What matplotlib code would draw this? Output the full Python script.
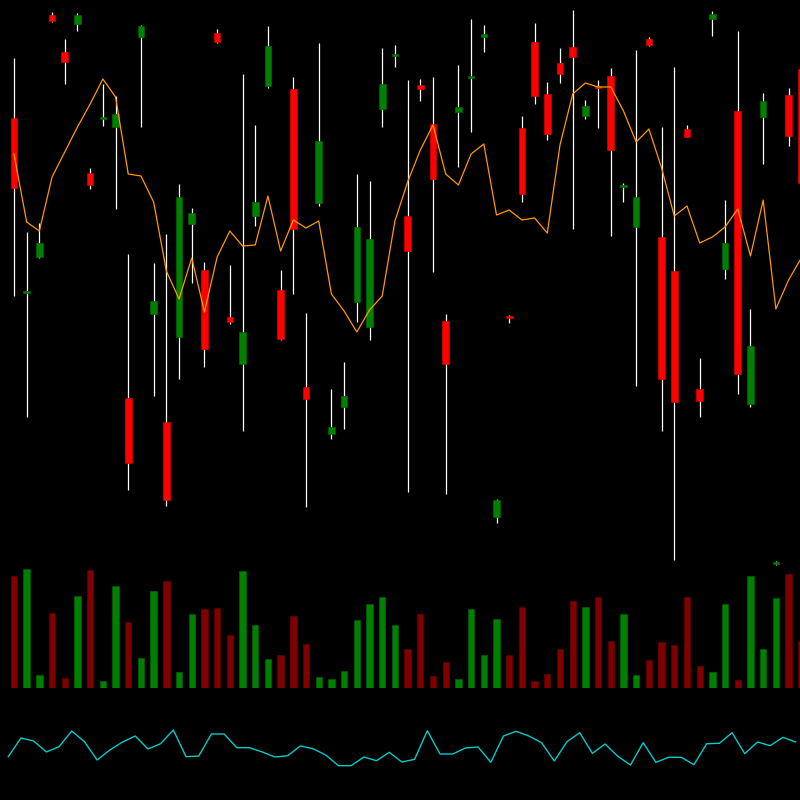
import matplotlib
matplotlib.use('Agg')
import matplotlib.pyplot as plt
import numpy as np

# OHLC values (63 sessions)
opens = [48.2, 30.7, 34.3, 58.5, 54.8, 57.6, 42.7, 48.1, 47.3, 20.2,
         56.3, 28.6, 17.8, 26.3, 37.6, 33.0, 56.7, 28.3, 23.6, 38.4,
         51.4, 31.0, 51.1, 21.3, 39.7, 16.6, 19.3, 29.8, 27.3, 49.1,
         54.4, 38.4, 51.5, 47.6, 27.9, 48.8, 52.2, 56.3, 8.3, 28.3,
         47.2, 55.8, 50.6, 53.7, 55.3, 48.4, 51.3, 52.4, 41.3, 37.3,
         56.1, 36.3, 32.9, 47.1, 21.1, 58.1, 33.1, 48.9, 19.6, 48.3,
         3.6, 50.5, 53.1]
highs = [54.2, 36.8, 37.7, 58.8, 56.1, 58.7, 43.2, 51.6, 50.4, 34.6,
         57.5, 33.7, 36.6, 41.6, 39.2, 33.8, 57.1, 33.5, 52.6, 47.5,
         57.4, 33.0, 52.3, 28.7, 55.7, 21.1, 23.8, 42.6, 41.9, 55.2,
         55.5, 52.0, 52.1, 52.3, 28.6, 53.5, 58.1, 57.5, 10.1, 28.5,
         48.4, 57.7, 51.8, 55.2, 59.0, 50.0, 52.0, 53.2, 41.7, 55.0,
         56.3, 47.3, 53.3, 47.5, 24.2, 58.9, 40.0, 56.9, 29.1, 50.7,
         3.9, 51.2, 54.0]
lows = [30.4, 18.3, 34.2, 57.8, 51.6, 56.9, 41.1, 47.4, 39.1, 11.0,
        47.3, 20.4, 9.4, 22.1, 31.7, 23.3, 55.7, 27.6, 16.9, 37.4,
        51.2, 26.0, 30.6, 9.3, 39.4, 16.1, 17.1, 27.8, 26.0, 47.3,
        53.3, 10.8, 49.9, 32.8, 10.6, 43.3, 46.8, 54.8, 7.7, 27.7,
        39.8, 49.6, 46.0, 51.7, 37.1, 48.1, 47.2, 36.4, 39.8, 21.4,
        55.4, 16.9, 4.0, 46.3, 18.3, 56.4, 32.1, 20.6, 19.3, 43.6,
        3.5, 45.4, 41.0]
closes = [41.2, 30.9, 35.7, 57.9, 53.8, 58.5, 41.5, 48.3, 48.6, 13.7,
          57.4, 29.9, 10.0, 40.3, 38.7, 25.1, 55.8, 27.8, 26.8, 39.8,
          55.4, 26.1, 37.1, 20.1, 45.9, 17.3, 20.4, 37.3, 36.1, 51.6,
          54.5, 34.9, 51.1, 42.1, 23.6, 49.3, 52.3, 56.6, 10.0, 28.2,
          40.6, 50.4, 46.6, 52.6, 54.3, 49.4, 51.2, 45.0, 41.4, 40.3,
          55.5, 22.1, 19.8, 46.3, 19.9, 58.6, 35.7, 22.6, 25.4, 49.9,
          3.8, 46.4, 41.7]

# moving average (orange line)
ma = [44.6, 37.8, 36.9, 42.3, 44.8, 47.3, 49.6, 52.1, 50.3, 42.6,
      42.4, 39.8, 32.9, 30.1, 34.2, 28.8, 34.3, 36.9, 35.4, 35.5,
      40.4, 34.9, 38.0, 37.2, 37.9, 30.6, 28.9, 26.8, 29.0, 30.4,
      37.9, 41.8, 45.0, 47.5, 42.6, 41.5, 44.6, 45.6, 38.5, 39.0,
      38.0, 38.2, 36.7, 45.5, 50.6, 51.7, 51.3, 51.3, 48.9, 45.8,
      47.1, 43.2, 38.4, 39.4, 35.7, 36.3, 37.3, 39.1, 34.4, 40.0,
      29.1, 32.0, 34.2]

volumes = [1123, 1190, 130, 750, 100, 920, 1183, 73, 1020, 663,
           303, 970, 1070, 163, 740, 793, 800, 533, 1170, 630,
           290, 330, 723, 440, 110, 90, 170, 680, 840, 910,
           630, 390, 740, 120, 260, 90, 793, 333, 693, 333,
           813, 70, 140, 393, 870, 810, 913, 470, 743, 130,
           283, 460, 430, 910, 223, 160, 840, 80, 1123, 393,
           900, 1140, 470]

# oscillator (cyan line)
osc = [43.3, 62.0, 59.0, 48.0, 53.3, 69.0, 58.3, 40.0, 50.0, 58.0,
       64.0, 51.0, 56.3, 70.0, 43.3, 44.0, 66.0, 66.0, 52.3, 52.3,
       48.0, 43.0, 44.3, 54.0, 51.3, 45.0, 34.3, 34.3, 43.0, 39.3,
       47.7, 38.0, 40.7, 69.3, 46.0, 46.0, 52.0, 53.0, 37.7, 64.0,
       68.7, 64.0, 57.3, 39.0, 58.3, 67.3, 46.7, 56.0, 43.7, 35.0,
       57.3, 37.7, 42.7, 42.7, 35.3, 56.3, 56.7, 67.3, 46.3, 58.0,
       54.3, 62.7, 58.0]

o = np.array(opens)
c = np.array(closes)
x = np.arange(len(o))
up = c >= o

fig = plt.figure(figsize=(8, 8), dpi=100, facecolor='black')
ax_p = fig.add_axes([0, 0.28, 1, 0.72])
ax_v = fig.add_axes([0, 0.14, 1, 0.16])
ax_o = fig.add_axes([0, 0.0, 1, 0.125])

for ax in (ax_p, ax_v, ax_o):
    ax.set_facecolor('none')
    ax.set_xlim(-1.1, 61.9)
    ax.axis('off')

# candles: wicks first, then bodies
ax_p.vlines(x, lows, highs, color='white', linewidth=0.9, zorder=1)
body_col = np.where(up, '#008000', '#ff0000')
edge_col = np.where(up, '#006400', '#d00000')
body_h = np.maximum(np.abs(c - o), 0.18)
ax_p.bar(x, body_h, bottom=np.minimum(o, c), width=0.52,
         color=body_col, edgecolor=edge_col, linewidth=0.5, zorder=2)
ax_p.plot(x, ma, color='#ff9900', linewidth=0.9, zorder=3)
ax_p.set_ylim(2.4, 60)

# volume
vol_col = np.where(up, '#008000', '#800000')
vol_edge = np.where(up, '#006000', '#600000')
ax_v.bar(x, volumes, width=0.5, color=vol_col, edgecolor=vol_edge, linewidth=0.5)
ax_v.set_ylim(0, 1280)

# oscillator panel
ax_o.plot(x - 0.45, osc, color='#00cccc', linewidth=1.0)
ax_o.set_ylim(0, 100)

fig.savefig('out.png', facecolor='black')
